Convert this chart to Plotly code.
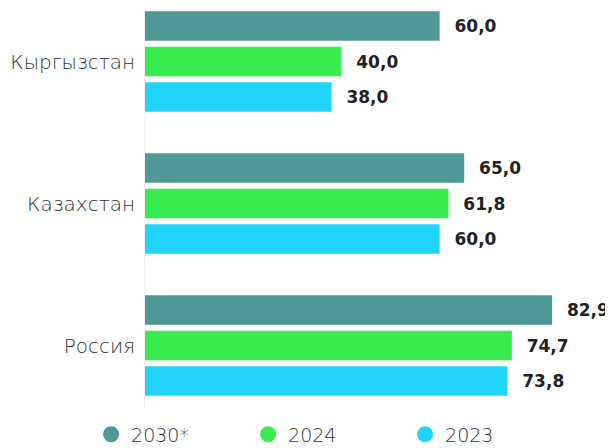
import plotly.graph_objects as go

countries = ["Кыргызстан", "Казахстан", "Россия"]
series_names = ["2030*", "2024", "2023"]
values_2030 = [60.0, 65.0, 82.9]
values_2024 = [40.0, 61.8, 74.7]
values_2023 = [38.0, 60.0, 73.8]
colors = ["#4E9994", "#38EB4E", "#22D3FA"]

all_values = [values_2030, values_2024, values_2023]

fig = go.Figure()
for name, vals, col in zip(series_names, all_values, colors):
    fig.add_trace(go.Bar(
        y=countries, x=vals, orientation="h", name=name,
        marker=dict(color=col, line=dict(width=0)),
        texttemplate="\u00a0\u00a0%{x:.1f}", textposition="outside",
        textfont=dict(family="DejaVu Sans", size=17, color="#222222", weight="bold"),
        constraintext="none", cliponaxis=False, showlegend=False,
        hoverinfo="skip",
    ))
for name, col in zip(series_names, colors):
    fig.add_trace(go.Scatter(
        x=[None], y=[None], mode="markers", name=name,
        marker=dict(color=col, size=16, symbol="circle"),
        showlegend=True,
    ))

# the page body adds an 8px offset, so the figure is 8px smaller and shifted
fig.update_layout(
    width=605, height=440,
    margin=dict(l=137, r=26, t=0, b=40, autoexpand=False),
    paper_bgcolor="white", plot_bgcolor="white",
    barmode="group", bargap=0.25, bargroupgap=0.17,
    separators=", ",
    font=dict(family="DejaVu Sans", color="#333333"),
    xaxis=dict(range=[0, 90], showgrid=False, zeroline=False,
               showticklabels=False, showline=False, automargin=False),
    yaxis=dict(type="category", categoryorder="array", categoryarray=countries,
               range=[2.44, -0.377], showgrid=False, zeroline=False,
               showline=True, linecolor="#f2f2f2", linewidth=1,
               ticks="", ticklabelstandoff=5, automargin=False,
               tickfont=dict(family="DejaVu Sans", size=20, color="#333333", weight=300)),
    legend=dict(orientation="h", x=-0.122, xanchor="left", y=-0.066, yanchor="middle",
                font=dict(family="DejaVu Sans", size=19, color="#333333", weight=300),
                itemsizing="trace", entrywidth=112, entrywidthmode="pixels",
                bgcolor="rgba(0,0,0,0)"),
)

fig.write_html("out.html")
